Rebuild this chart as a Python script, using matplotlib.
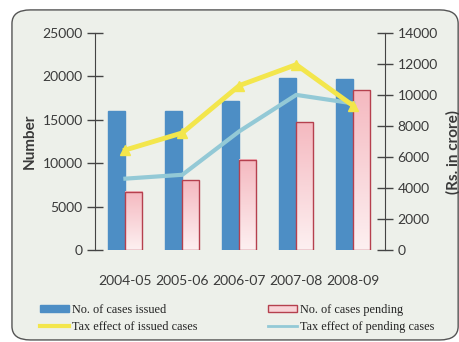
import numpy as np
import matplotlib.pyplot as plt
from matplotlib.colors import LinearSegmentedColormap
from matplotlib.patches import FancyBboxPatch, Patch
from matplotlib.lines import Line2D

years = ["2004-05", "2005-06", "2006-07", "2007-08", "2008-09"]
cases_issued = [16000, 16000, 17100, 19800, 19700]
cases_pending = [6700, 8050, 10400, 14700, 18400]
tax_issued = [6450, 7550, 10600, 11950, 9300]
tax_pending = [4600, 4850, 7650, 10000, 9450]

plt.rcParams["font.family"] = ["Lato", "DejaVu Sans"]
txt = "#3a3a3a"
bg = "#edf0ea"

fig = plt.figure(figsize=(4.6, 3.42), dpi=100)
fig.patch.set_facecolor("white")
frame = FancyBboxPatch((0.026, 0.006), 0.97, 0.965, boxstyle="round,pad=0,rounding_size=0.04",
                       transform=fig.transFigure, facecolor=bg, edgecolor="#555555", lw=1.0,
                       zorder=-10)
fig.patches.append(frame)

ax = fig.add_axes([0.207, 0.269, 0.63, 0.635])
ax.patch.set_alpha(0)
x = np.arange(len(years))
w = 0.3
ax.bar(x - w / 2, cases_issued, w, color="#4d8ec5", edgecolor="#4d8ec5", zorder=2)

# pink bars with a vertical gradient
pend = ax.bar(x + w / 2, cases_pending, w, color="none", edgecolor="#b5404e", lw=1.0, zorder=3)
grad = np.linspace(0, 1, 100).reshape(-1, 1)
pink = LinearSegmentedColormap.from_list("p", ["#fdf0f1", "#f5b9c0"])
for b in pend:
    bx, bw, bh = b.get_x(), b.get_width(), b.get_height()
    ax.imshow(grad, extent=(bx, bx + bw, 0, bh), origin="lower", aspect="auto",
              cmap=pink, zorder=2)

ax.set_xlim(-0.53, 4.56)
ax.set_ylim(0, 25000)
ax.set_yticks(np.arange(0, 25001, 5000))
ax.set_xticks(x)
ax.set_xticklabels(years, fontsize=10, color=txt)
ax.tick_params(axis="x", length=0, pad=18)
ax.tick_params(axis="y", direction="inout", length=11, width=1, color="#444444",
               labelsize=10, labelcolor=txt)
for s in ["top", "right", "bottom"]:
    ax.spines[s].set_visible(False)
ax.spines["left"].set_color("#444444")
ax.set_ylabel("Number", fontsize=11, fontweight="bold", color=txt)
ax.yaxis.set_label_coords(-0.203, 0.5)

ax2 = ax.twinx()
ax2.plot(x, tax_issued, color="#f3e64c", lw=3.5, marker="^", ms=7, zorder=5)
ax2.plot(x, tax_pending, color="#93c9d6", lw=3, zorder=4)
ax2.set_ylim(0, 14000)
ax2.set_yticks(np.arange(0, 14001, 2000))
ax2.tick_params(axis="y", direction="inout", length=11, width=1, color="#444444",
                labelsize=10, labelcolor=txt)
for s in ["top", "left", "bottom"]:
    ax2.spines[s].set_visible(False)
ax2.spines["right"].set_color("#444444")
ax2.set_ylabel("(Rs. in crore)", fontsize=11, fontweight="bold", color=txt)
ax2.yaxis.set_label_coords(1.212, 0.45)

leg_font = {"family": "Liberation Serif", "size": 8.8}
common = dict(loc="upper left", frameon=False, prop=leg_font, handlelength=2.4,
              handleheight=0.5, labelspacing=0.45, handletextpad=0.2, borderaxespad=0,
              labelcolor="#222222")
leg1 = fig.legend([Patch(facecolor="#4d8ec5", edgecolor="#4d8ec5"),
                   Line2D([0], [0], color="#f3e64c", lw=3)],
                  ["No. of cases issued", "Tax effect of issued cases"],
                  bbox_to_anchor=(35 / 460, 1 - 299 / 342), **common)
leg2 = fig.legend([Patch(facecolor="#f8d3d7", edgecolor="#b5404e"),
                   Line2D([0], [0], color="#93c9d6", lw=2)],
                  ["No. of cases pending", "Tax effect of pending cases"],
                  bbox_to_anchor=(263 / 460, 1 - 299 / 342), **common)

fig.savefig("out.png", dpi=100, facecolor=fig.get_facecolor())
